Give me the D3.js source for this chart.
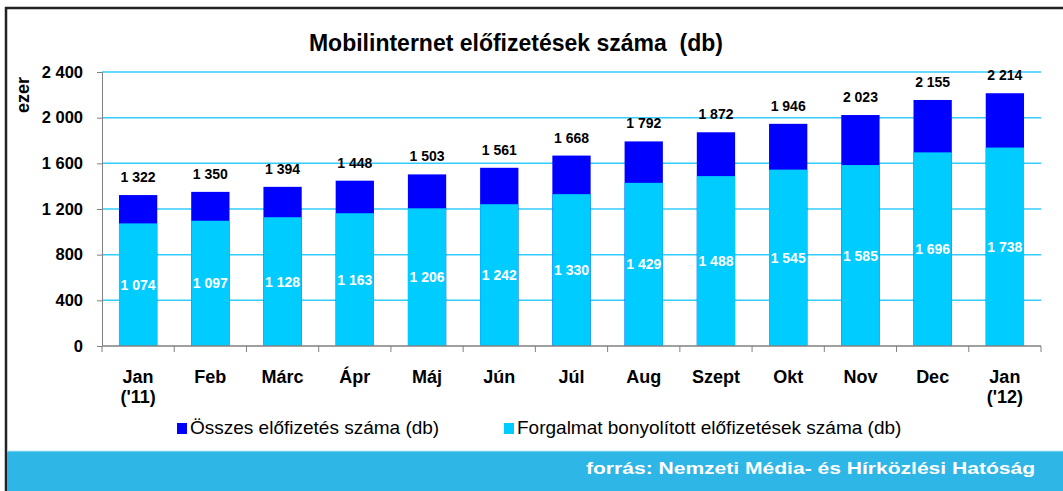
<!DOCTYPE html>
<html>
<head>
<meta charset="utf-8">
<script src="https://cdn.jsdelivr.net/npm/d3@7"></script>
<style>
  body { margin: 0; background: #fff; }
  svg { display: block; font-family: Arial, "Liberation Sans", sans-serif; }
</style>
</head>
<body>
<div id="chart"></div>
<script>
const months = ['Jan|(\'11)', 'Feb', 'Márc', 'Ápr', 'Máj', 'Jún', 'Júl', 'Aug', 'Szept', 'Okt', 'Nov', 'Dec', 'Jan|(\'12)'];
const totalSubs = [1322, 1350, 1394, 1448, 1503, 1561, 1668, 1792, 1872, 1946, 2023, 2155, 2214];
const activeSubs = [1074, 1097, 1128, 1163, 1206, 1242, 1330, 1429, 1488, 1545, 1585, 1696, 1738];
const yTicks = [0, 400, 800, 1200, 1600, 2000, 2400];
const seriesNames = ['Összes előfizetés száma (db)', 'Forgalmat bonyolított előfizetések száma (db)'];

const W = 1063, H = 491;
const margin = { top: 72, right: 22, bottom: 145, left: 102 };
const width = W - margin.left - margin.right;
const height = H - margin.top - margin.bottom;

const fmt = v => d3.format(',')(v).replace(/,/g, ' ');

const svg = d3.select('#chart').append('svg')
  .attr('width', W)
  .attr('height', H);

// frame
svg.append('rect').attr('x', 0).attr('y', 0).attr('width', W).attr('height', H).attr('fill', '#fff');
svg.append('line').attr('x1', 5).attr('x2', W).attr('y1', 8).attr('y2', 8)
  .attr('stroke', '#222').attr('stroke-width', 2.5);
svg.append('line').attr('x1', 6).attr('x2', 6).attr('y1', 7).attr('y2', H)
  .attr('stroke', '#222').attr('stroke-width', 2.5);

// footer band
svg.append('rect').attr('x', 7).attr('y', 451).attr('width', W - 7).attr('height', H - 451)
  .attr('fill', '#2db6e6');
svg.append('line').attr('x1', 7).attr('x2', W).attr('y1', 451).attr('y2', 451)
  .attr('stroke', '#bfe6f5').attr('stroke-width', 1);
svg.append('text')
  .attr('x', 586).attr('y', 474)
  .attr('textLength', 449)
  .attr('lengthAdjust', 'spacingAndGlyphs')
  .attr('fill', '#fff')
  .style('font-weight', 'bold')
  .style('font-size', '16px')
  .text('forrás: Nemzeti Média- és Hírközlési Hatóság');

// title
svg.append('text')
  .attr('x', 516).attr('y', 51)
  .attr('text-anchor', 'middle')
  .style('white-space', 'pre')
  .style('font-weight', 'bold')
  .style('font-size', '23px')
  .text('Mobilinternet előfizetések száma  (db)');

const g = svg.append('g').attr('transform', `translate(${margin.left},${margin.top})`);

const x = d3.scaleBand().domain(months).range([0, width]).paddingInner(0.47).paddingOuter(0.235);
const xOuter = d3.scaleBand().domain(months).range([0, width]);
const y = d3.scaleLinear().domain([0, 2400]).range([height, 0]);

// gridlines
g.selectAll('.grid').data(yTicks.filter(d => d > 0)).enter().append('line')
  .attr('x1', 0).attr('x2', width)
  .attr('y1', d => y(d)).attr('y2', d => y(d))
  .attr('stroke', '#33ccff').attr('stroke-width', 1.5);

// y axis
const yAxis = g.append('g').call(d3.axisLeft(y).tickValues(yTicks).tickFormat(fmt).tickSize(5).tickPadding(14));
yAxis.select('.domain').attr('stroke', '#808080');
yAxis.selectAll('.tick line').attr('stroke', '#808080');
yAxis.selectAll('text').style('font-size', '16.5px').style('font-weight', 'bold').attr('fill', '#000');

svg.append('text')
  .attr('transform', 'translate(29,95) rotate(-90)')
  .attr('text-anchor', 'middle')
  .style('font-weight', 'bold')
  .style('font-size', '18px')
  .text('ezer');

// bars: total (top, blue) then active (bottom, cyan)
g.selectAll('.total').data(months).enter().append('rect')
  .attr('x', d => x(d)).attr('width', x.bandwidth())
  .attr('y', (d, i) => y(totalSubs[i]))
  .attr('height', (d, i) => y(0) - y(totalSubs[i]))
  .attr('fill', '#0000ff');

g.selectAll('.active').data(months).enter().append('rect')
  .attr('x', d => x(d)).attr('width', x.bandwidth())
  .attr('y', (d, i) => y(activeSubs[i]))
  .attr('height', (d, i) => y(0) - y(activeSubs[i]))
  .attr('fill', '#00ccff');

// labels
g.selectAll('.tlab').data(months).enter().append('text')
  .attr('x', d => x(d) + x.bandwidth() / 2)
  .attr('y', (d, i) => y(totalSubs[i]) - 13)
  .attr('text-anchor', 'middle')
  .style('font-weight', 'bold').style('font-size', '14px')
  .text((d, i) => fmt(totalSubs[i]));

g.selectAll('.alab').data(months).enter().append('text')
  .attr('x', d => x(d) + x.bandwidth() / 2)
  .attr('y', (d, i) => y(activeSubs[i] / 2) + 5)
  .attr('text-anchor', 'middle')
  .attr('fill', '#fff')
  .style('font-weight', 'bold').style('font-size', '14px')
  .text((d, i) => fmt(activeSubs[i]));

// x axis
const xg = g.append('g').attr('transform', `translate(0,${height})`);
xg.append('line').attr('x1', 0).attr('x2', width).attr('y1', 0).attr('y2', 0).attr('stroke', '#808080').attr('stroke-width', 1.5);
xg.selectAll('.xt').data(months.concat(['end'])).enter().append('line')
  .attr('x1', (d, i) => i < months.length ? xOuter(d) : width)
  .attr('x2', (d, i) => i < months.length ? xOuter(d) : width)
  .attr('y1', 0).attr('y2', 6)
  .attr('stroke', '#808080');
const xl = xg.selectAll('.xl').data(months).enter().append('text')
  .attr('x', d => xOuter(d) + xOuter.bandwidth() / 2)
  .attr('y', 37)
  .attr('text-anchor', 'middle')
  .style('font-weight', 'bold').style('font-size', '18px');
xl.each(function (d) {
  const parts = d.split('|');
  parts.forEach((p, k) => {
    d3.select(this).append('tspan')
      .attr('x', xOuter(d) + xOuter.bandwidth() / 2)
      .attr('dy', k === 0 ? 0 : 20)
      .text(p);
  });
});

// legend
const legendColors = ['#0000ff', '#00ccff'];
const legendX = [177, 504];
seriesNames.forEach((name, i) => {
  svg.append('rect').attr('x', legendX[i]).attr('y', 423).attr('width', 10).attr('height', 11).attr('fill', legendColors[i]);
  svg.append('text')
    .attr('x', legendX[i] + 13).attr('y', 434)
    .style('font-size', '19px')
    .text(name);
});
</script>
</body>
</html>
